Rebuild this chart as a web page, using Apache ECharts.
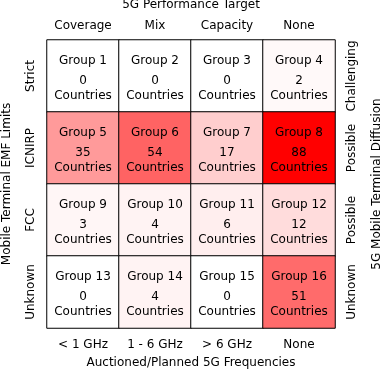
<!DOCTYPE html>
<html>
<head>
<meta charset="utf-8">
<script src="https://cdn.jsdelivr.net/npm/echarts@6/dist/echarts.min.js"></script>
<style>html,body{margin:0;padding:0;background:#fff;}#c{width:381px;height:370px;}</style>
</head>
<body>
<div id="c"></div>
<script>
const frequencies = ['< 1 GHz', '1 - 6 GHz', '> 6 GHz', 'None'];
const targets = ['Coverage', 'Mix', 'Capacity', 'None'];
const limits = ['Strict', 'ICNIRP', 'FCC', 'Unknown'];
const diffusion = ['Challenging', 'Possible', 'Possible', 'Unknown'];
const rowStrict = [0, 0, 0, 2];
const rowICNIRP = [35, 54, 17, 88];
const rowFCC = [3, 4, 6, 12];
const rowUnknown = [0, 4, 0, 51];

const rows = [rowStrict, rowICNIRP, rowFCC, rowUnknown];
const data = [];
rows.forEach((r, yi) => r.forEach((v, xi) => data.push([xi, yi, v, yi * 4 + xi + 1])));

const font = 'DejaVu Sans';
const chart = echarts.init(document.getElementById('c'));
chart.setOption({
  animation: false,
  textStyle: { fontFamily: font },
  grid: { left: 47, right: 46, top: 40, bottom: 42, containLabel: false, outerBoundsMode: 'none' },
  xAxis: [
    { type: 'category', data: frequencies, position: 'bottom',
      name: 'Auctioned/Planned 5G Frequencies', nameLocation: 'middle', nameGap: 29,
      nameTextStyle: { fontFamily: font, fontSize: 12, color: '#000' },
      axisLabel: { fontFamily: font, fontSize: 12, color: '#000', margin: 11, interval: 0, hideOverlap: false },
      axisLine: { show: false }, axisTick: { show: false }, splitLine: { show: false } },
    { type: 'category', data: targets, position: 'top',
      name: '5G Performance Target', nameLocation: 'middle', nameGap: 29,
      nameTextStyle: { fontFamily: font, fontSize: 12, color: '#000' },
      axisLabel: { fontFamily: font, fontSize: 12, color: '#000', margin: 8, interval: 0, hideOverlap: false },
      axisLine: { show: false }, axisTick: { show: false }, splitLine: { show: false } }
  ],
  yAxis: [
    { type: 'category', data: limits, inverse: true, position: 'left',
      name: 'Mobile Terminal EMF Limits', nameLocation: 'middle', nameGap: 34, nameRotate: 90,
      nameTextStyle: { fontFamily: font, fontSize: 12, color: '#000' },
      axisLabel: { fontFamily: font, fontSize: 12, color: '#000', rotate: 90, margin: 10, interval: 0, hideOverlap: false },
      axisLine: { show: false }, axisTick: { show: false }, splitLine: { show: false } },
    { type: 'category', data: ['0', '1', '2', '3'], inverse: true, position: 'right',
      name: '5G Mobile Terminal Diffusion', nameLocation: 'middle', nameGap: 36, nameRotate: 90,
      nameTextStyle: { fontFamily: font, fontSize: 12, color: '#000' },
      axisLabel: { fontFamily: font, fontSize: 12, color: '#000', rotate: 90, margin: 11, interval: 0, hideOverlap: false,
        formatter: (v, i) => diffusion[i] },
      axisLine: { show: false }, axisTick: { show: false }, splitLine: { show: false } }
  ],
  visualMap: { show: false, min: 0, max: 88, dimension: 2, inRange: { color: ['#ffffff', '#ff0000'] } },
  series: [{
    type: 'heatmap',
    xAxisIndex: 0, yAxisIndex: 0,
    data: data,
    itemStyle: { borderColor: '#000', borderWidth: 1 },
    label: {
      show: true,
      color: '#000',
      fontFamily: font,
      fontSize: 12,
      formatter: p => '{g|Group ' + p.data[3] + '}\n{c|' + p.data[2] + '}\n{c|Countries}',
      rich: {
        g: { fontFamily: font, fontSize: 12, color: '#000', lineHeight: 24 },
        c: { fontFamily: font, fontSize: 12, color: '#000', lineHeight: 15 }
      }
    },
    emphasis: { disabled: true }
  }]
});
</script>
</body>
</html>
